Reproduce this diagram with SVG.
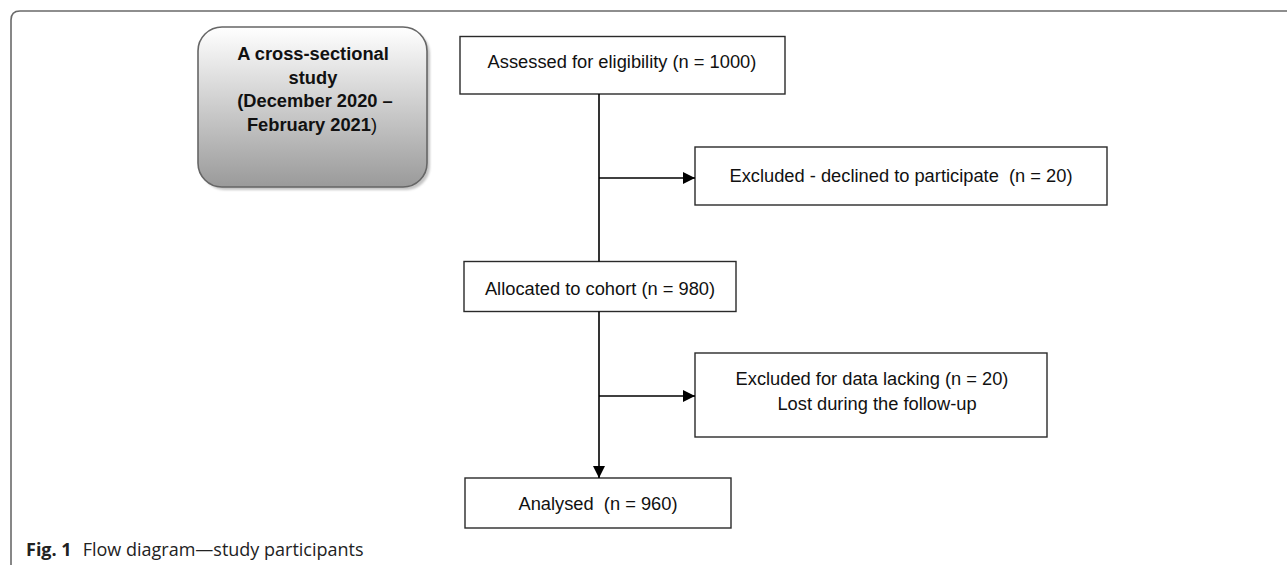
<svg xmlns="http://www.w3.org/2000/svg" width="1287" height="565" viewBox="0 0 1287 565">
<style>
.box{fill:#fff;stroke:#2a2a2a;stroke-width:1.4}
.t{font-family:"Liberation Sans",Arial,sans-serif;font-size:18.3px;fill:#111;text-anchor:middle}
.tb{font-family:"Liberation Sans",Arial,sans-serif;font-size:18.3px;font-weight:bold;fill:#111;text-anchor:middle}
.ln{stroke:#000;stroke-width:1.6;fill:none}
.cap{font-family:"Open Sans","Noto Sans",sans-serif;font-size:18px;fill:#222}
</style>
<defs>
<linearGradient id="gr" x1="0" y1="0" x2="0" y2="1">
<stop offset="0" stop-color="#ffffff"/>
<stop offset="1" stop-color="#9a9a9a"/>
</linearGradient>
<filter id="sh" x="-10%" y="-10%" width="130%" height="130%">
<feGaussianBlur stdDeviation="1.2"/>
</filter>
<marker id="ar" markerUnits="userSpaceOnUse" markerWidth="12" markerHeight="12" viewBox="0 0 12 12" refX="12" refY="6" orient="auto">
<path d="M0,0 L12,6 L0,12 z" fill="#000"/>
</marker>
</defs>
<path d="M11,565 V20 Q11,11 20,11 H1287" fill="none" stroke="#6a6a6a" stroke-width="1.6"/>
<g id="study">
<rect x="201" y="30" width="229" height="160" rx="24" fill="#c4c4c4" filter="url(#sh)"/>
<rect x="198" y="27" width="229" height="160" rx="24" fill="url(#gr)" stroke="#666" stroke-width="1.6"/>
<text class="tb" x="313" y="60">A cross-sectional</text>
<text class="tb" x="313" y="83.5">study</text>
<text class="tb" x="315" y="107">(December 2020 –</text>
<text class="tb" x="312" y="130.5">February 2021<tspan font-weight="normal">)</tspan></text>
</g>
<g id="assessed">
<rect class="box" x="460" y="36.5" width="325" height="57.5"/>
<text class="t" x="622" y="68">Assessed for eligibility (n = 1000)</text>
</g>
<g id="excluded1">
<rect class="box" x="695" y="147" width="412" height="58"/>
<text class="t" x="901" y="182" xml:space="preserve">Excluded - declined to participate  (n = 20)</text>
</g>
<g id="allocated">
<rect class="box" x="464" y="261.5" width="272" height="50"/>
<text class="t" x="600" y="295">Allocated to cohort (n = 980)</text>
</g>
<g id="excluded2">
<rect class="box" x="695" y="353" width="352" height="84"/>
<text class="t" x="872" y="385">Excluded for data lacking (n = 20)</text>
<text class="t" x="877" y="410">Lost during the follow-up</text>
</g>
<g id="analysed">
<rect class="box" x="465" y="478" width="266" height="50"/>
<text class="t" x="598" y="510" xml:space="preserve">Analysed  (n = 960)</text>
</g>
<g id="connectors">
<line class="ln" x1="599" y1="94" x2="599" y2="261.5"/>
<line class="ln" x1="599" y1="178" x2="695" y2="178" marker-end="url(#ar)"/>
<line class="ln" x1="599" y1="311.5" x2="599" y2="478" marker-end="url(#ar)"/>
<line class="ln" x1="599" y1="396" x2="695" y2="396" marker-end="url(#ar)"/>
</g>
<text class="cap" x="26" y="556"><tspan font-weight="bold">Fig. 1</tspan><tspan dx="11">Flow diagram—study participants</tspan></text>
</svg>
